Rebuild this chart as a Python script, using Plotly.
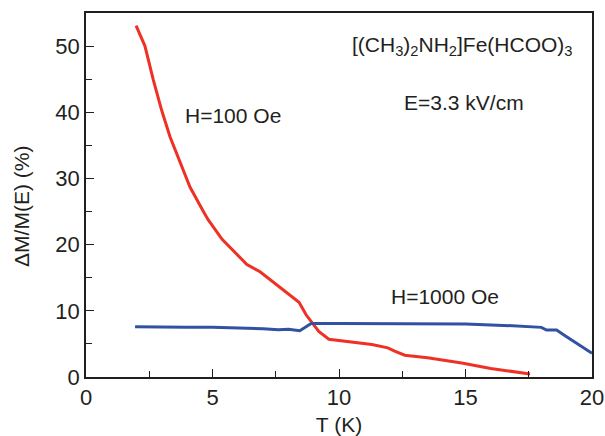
import plotly.graph_objects as go

# Temperature sweep (K) and relative magnetization change (%) at H = 100 Oe
t_100 = [1.98, 2.33, 2.66, 2.99, 3.32, 3.72, 4.11, 4.64, 4.82, 5.38, 5.89, 6.36,
         6.88, 7.4, 7.9, 8.42, 8.7, 8.9, 9.2, 9.6, 10.5, 11.3, 11.93, 12.2,
         12.6, 13.5, 14.85, 16.0, 17.55]
dm_100 = [53.1, 50.0, 44.9, 40.3, 36.3, 32.3, 28.7, 25.0, 23.8, 20.8, 18.9, 17.0,
          15.9, 14.3, 12.8, 11.3, 9.4, 8.4, 6.9, 5.7, 5.3, 4.9, 4.4, 3.9,
          3.3, 2.9, 2.1, 1.3, 0.45]

# Same quantity at H = 1000 Oe
t_1000 = [1.94, 3.0, 4.0, 5.0, 6.0, 7.0, 7.6, 8.0, 8.45, 8.9, 10.0, 12.0,
          13.25, 15.0, 16.5, 17.5, 18.0, 18.2, 18.6, 18.95, 20.0]
dm_1000 = [7.6, 7.5, 7.5, 7.5, 7.45, 7.3, 7.15, 7.2, 7.0, 8.1, 8.1, 8.1,
           8.05, 8.0, 7.8, 7.6, 7.5, 7.1, 7.1, 6.2, 3.6]

x_ticks = [0, 5, 10, 15, 20]
y_ticks = [0, 10, 20, 30, 40, 50]

FONT = "Arial, Liberation Sans, Helvetica, sans-serif"
INK = "#231f20"

fig = go.Figure()
fig.add_trace(go.Scatter(x=t_100, y=dm_100, mode="lines",
                         line=dict(color="#ee3124", width=3), showlegend=False))
fig.add_trace(go.Scatter(x=t_1000, y=dm_1000, mode="lines",
                         line=dict(color="#3351a3", width=3), showlegend=False))

axis_common = dict(
    showgrid=False, zeroline=False, showline=True, linecolor=INK, linewidth=1.5,
    mirror=True, ticks="inside", ticklen=8, tickwidth=1.3, tickcolor=INK,
    tickfont=dict(family=FONT, size=22, color=INK), automargin=False,
)

fig.update_xaxes(
    range=[0, 20], tickvals=x_ticks, ticktext=[str(v) for v in x_ticks],
    minor=dict(ticks="inside", ticklen=6, tickwidth=1.3, tickcolor=INK, dtick=2.5, showgrid=False),
    title=dict(text="T (K)", font=dict(family=FONT, size=21, color=INK), standoff=9),
    **axis_common,
)
fig.update_yaxes(
    range=[0, 55], tickvals=y_ticks, ticktext=[str(v) for v in y_ticks],
    minor=dict(ticks="inside", ticklen=6, tickwidth=1.3, tickcolor=INK, dtick=5, showgrid=False),
    **axis_common,
)

# Vertical axis title, placed to the left of the tick labels
fig.add_annotation(xref="paper", yref="paper", x=-0.1265, y=0.47, text="ΔM/M(E) (%)",
                   textangle=-90, showarrow=False, xanchor="center", yanchor="middle",
                   font=dict(family=FONT, size=21, color=INK))

labels = [
    (3.83, 39.5, "H=100 Oe"),
    (11.98, 12.1, "H=1000 Oe"),
    (10.43, 50.0, "[(CH<sub>3</sub>)<sub>2</sub>NH<sub>2</sub>]Fe(HCOO)<sub>3</sub>"),
    (12.48, 41.5, "E=3.3 kV/cm"),
]
for x, y, txt in labels:
    fig.add_annotation(x=x, y=y, text=txt, showarrow=False, xanchor="left", yanchor="middle",
                       font=dict(family=FONT, size=21, color=INK))

fig.update_layout(
    width=605, height=436,
    margin=dict(l=86, r=13, t=13, b=59),
    paper_bgcolor="white", plot_bgcolor="white",
)

fig.write_html("out.html")
